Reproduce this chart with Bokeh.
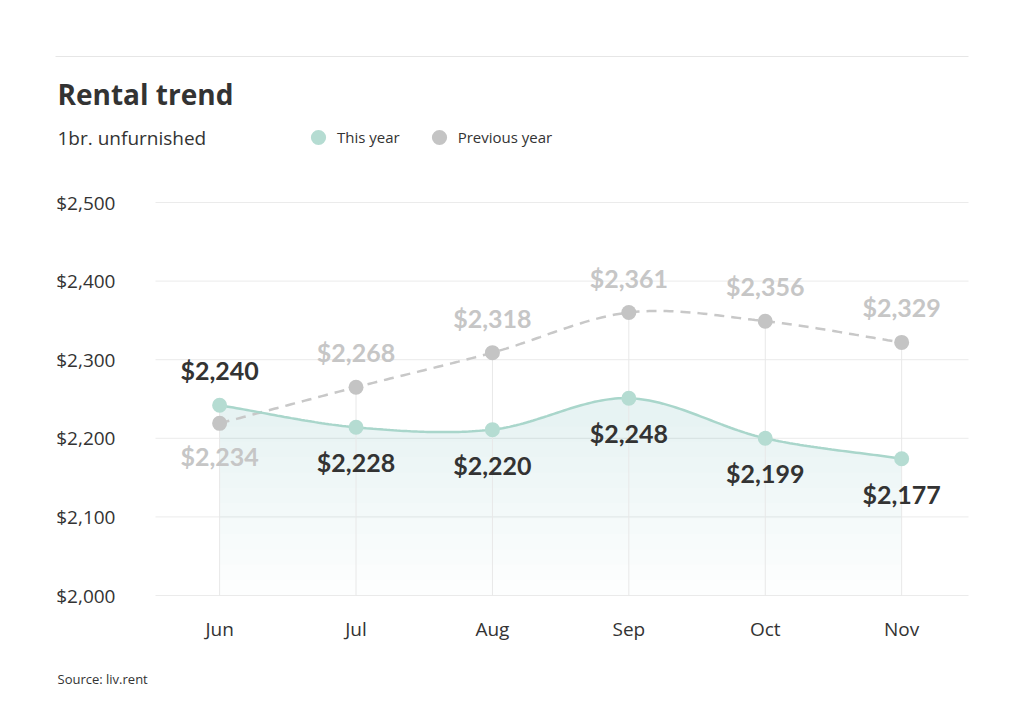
import numpy as np
from bokeh.plotting import figure
from bokeh.models import Range1d, FixedTicker, Legend, LegendItem, ColumnDataSource, LinearAxis
from bokeh.core.properties import value
from bokeh.embed import file_html
from bokeh.resources import INLINE

# ---- data ----
months = ["Jun", "Jul", "Aug", "Sep", "Oct", "Nov"]
this_year_plot = [2242, 2214, 2211, 2251, 2200, 2174]      # plotted point positions
prev_year_plot = [2219, 2265, 2309, 2360, 2349, 2322]
this_year_labels = [2240, 2228, 2220, 2248, 2199, 2177]    # printed values
prev_year_labels = [2234, 2268, 2318, 2361, 2356, 2329]
y_ticks = [2000, 2100, 2200, 2300, 2400, 2500]
y_tick_labels = ["$2,000", "$2,100", "$2,200", "$2,300", "$2,400", "$2,500"]

TEAL_PT = "#b5dcd2"
TEAL_LINE = "#a9d6cb"
GREY_PT = "#c4c4c4"
GREY_LINE = "#c8c8c8"
DARK = "#333333"
FONT = "Open Sans"
LFONT = "Lato"

W, H = 1024, 717


# pixel -> data mapping (plot area: x 155..968, y 202..595)
def xd(px):
    return -0.47 + (px - 155) / 813 * 5.96


def yd(py):
    return 2500 - (py - 202) / 393 * 500


def catmull(xs, ys, n=40):
    xs = np.asarray(xs, float); ys = np.asarray(ys, float)
    m = np.zeros_like(ys)
    m[1:-1] = (ys[2:] - ys[:-2]) / 2.0
    m[0] = ys[1] - ys[0]
    m[-1] = ys[-1] - ys[-2]
    ox, oy = [], []
    for i in range(len(xs) - 1):
        t = np.linspace(0, 1, n, endpoint=(i == len(xs) - 2))
        h00 = 2*t**3 - 3*t**2 + 1
        h10 = t**3 - 2*t**2 + t
        h01 = -2*t**3 + 3*t**2
        h11 = t**3 - t**2
        ox.extend(xs[i] + t)
        oy.extend(h00*ys[i] + h10*m[i] + h01*ys[i+1] + h11*m[i+1])
    return np.array(ox), np.array(oy)


x = np.arange(len(months))
cx, cy = catmull(x, this_year_plot)
px_, py_ = catmull(x, prev_year_plot)

p = figure(width=W, height=H, output_backend="svg", toolbar_location=None,
           x_range=Range1d(xd(0), xd(W)), y_range=Range1d(yd(H), yd(0)),
           x_axis_location=None, y_axis_location=None,
           min_border=0)
p.background_fill_color = "white"
p.border_fill_color = "white"
p.outline_line_color = None
p.xgrid.visible = False
p.ygrid.visible = False

# axes fixed inside the (full-canvas) frame
yax = LinearAxis(ticker=FixedTicker(ticks=y_ticks), fixed_location=xd(155))
yax.major_label_overrides = {t: l for t, l in zip(y_ticks, y_tick_labels)}
yax.major_label_standoff = 34
xax = LinearAxis(ticker=FixedTicker(ticks=list(x)), fixed_location=y_ticks[0])
xax.major_label_overrides = {int(i): m for i, m in zip(x, months)}
xax.major_label_standoff = 14
for ax in (xax, yax):
    ax.axis_line_color = None
    ax.major_tick_line_color = None
    ax.minor_tick_line_color = None
    ax.major_label_text_font = FONT
    ax.major_label_text_font_size = "19px"
    ax.major_label_text_color = DARK
p.add_layout(yax, "left")
p.add_layout(xax, "below")

# horizontal grid lines (plot area only)
p.segment(x0=[xd(155)]*len(y_ticks), y0=y_ticks, x1=[xd(968)]*len(y_ticks), y1=y_ticks,
          line_color="#ebebeb", line_width=1)

# gradient-like fill under this year's curve
levels = np.linspace(2000, 2215, 12)
for lv in levels:
    p.varea(x=cx, y1=np.full_like(cy, lv), y2=np.maximum(cy, lv),
            fill_color=TEAL_LINE, fill_alpha=0.022)

# vertical guides
tops = np.maximum(this_year_plot, prev_year_plot)
p.segment(x0=x, y0=[y_ticks[0]]*len(x), x1=x, y1=tops, line_color="#e8e8e8", line_width=1)

# lines
p.line(px_, py_, line_color=GREY_LINE, line_width=2.5, line_dash="10 7")
p.line(cx, cy, line_color=TEAL_LINE, line_width=2.5)

r_prev = p.scatter(x, prev_year_plot, size=15, fill_color=GREY_PT, line_color=None)
r_this = p.scatter(x, this_year_plot, size=15, fill_color=TEAL_PT, line_color=None)

# value labels
this_above = [t > pr for t, pr in zip(this_year_plot, prev_year_plot)]
src_this = ColumnDataSource(dict(
    x=x, y=this_year_plot,
    t=["${:,}".format(v) for v in this_year_labels],
    off=[-35 if a else 35 for a in this_above]))
src_prev = ColumnDataSource(dict(
    x=x, y=prev_year_plot,
    t=["${:,}".format(v) for v in prev_year_labels],
    off=[33 if a else -35 for a in this_above]))
p.text(x="x", y="y", text="t", y_offset="off", source=src_prev,
       text_font=value(LFONT), text_font_style="bold", text_font_size="25px",
       text_color="#c6c6c6", text_align="center", text_baseline="middle")
p.text(x="x", y="y", text="t", y_offset="off", source=src_this,
       text_font=value(LFONT), text_font_style="bold", text_font_size="25px",
       text_color=DARK, text_align="center", text_baseline="middle")

# header / footer
p.segment(x0=[xd(55)], y0=[yd(56)], x1=[xd(968)], y1=[yd(56)], line_color="#e6e6e6", line_width=1)
p.text(x=[xd(57)], y=[yd(93)], text=["Rental trend"], text_font=value(FONT),
       text_font_style="bold", text_font_size="28px", text_color=DARK, text_baseline="middle")
p.text(x=[xd(57)], y=[yd(137)], text=["1br. unfurnished"], text_font=value(FONT),
       text_font_size="19px", text_color=DARK, text_baseline="middle")
p.text(x=[xd(57)], y=[yd(678)], text=["Source: liv.rent"], text_font=value(FONT),
       text_font_size="13px", text_color=DARK, text_baseline="middle")

legend = Legend(items=[LegendItem(label="This year", renderers=[r_this]),
                       LegendItem(label="Previous year", renderers=[r_prev])],
                orientation="horizontal", location=(299, H - 156),
                glyph_width=38, glyph_height=38, label_standoff=0, spacing=20,
                padding=0, margin=0, border_line_color=None, background_fill_alpha=0,
                label_text_font=FONT, label_text_font_size="15px", label_text_color=DARK,
                label_height=38)
p.add_layout(legend)

open("out.html", "w").write(file_html(p, INLINE))
